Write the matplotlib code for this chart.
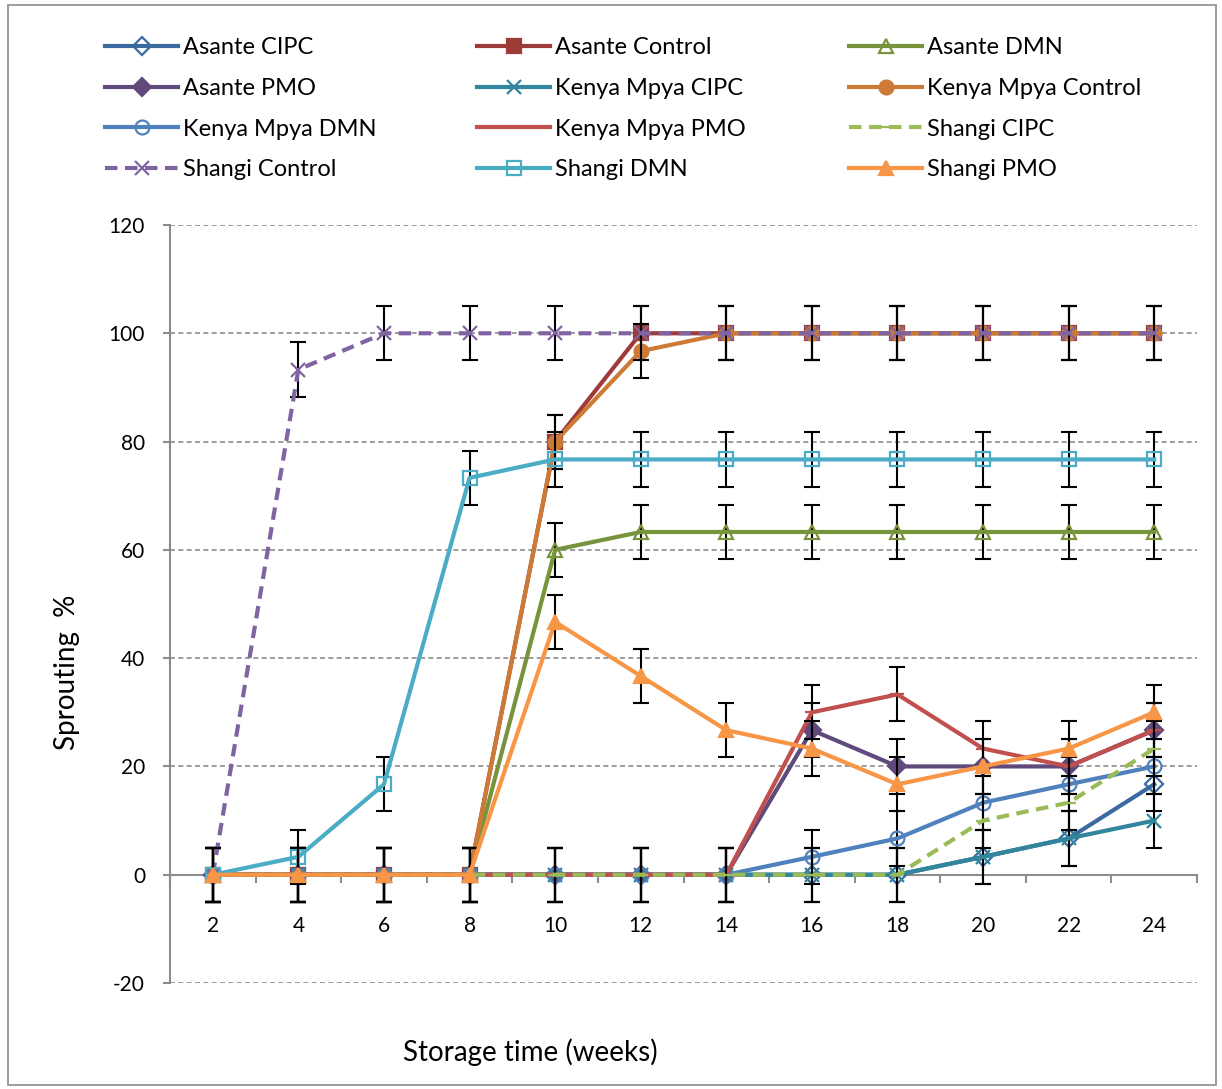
import matplotlib.pyplot as plt
from matplotlib.patches import Rectangle

plt.rcParams['font.family'] = ['Lato', 'DejaVu Sans']
plt.rcParams['axes.unicode_minus'] = False

weeks = [2, 4, 6, 8, 10, 12, 14, 16, 18, 20, 22, 24]

names = ["Asante CIPC", "Asante Control", "Asante DMN",
         "Asante PMO", "Kenya Mpya CIPC", "Kenya Mpya Control",
         "Kenya Mpya DMN", "Kenya Mpya PMO", "Shangi CIPC",
         "Shangi Control", "Shangi DMN", "Shangi PMO"]

asante_cipc = [0, 0, 0, 0, 0, 0, 0, 0, 0, 3.3, 6.7, 16.7]
asante_control = [0, 0, 0, 0, 80, 100, 100, 100, 100, 100, 100, 100]
asante_dmn = [0, 0, 0, 0, 60, 63.3, 63.3, 63.3, 63.3, 63.3, 63.3, 63.3]
asante_pmo = [0, 0, 0, 0, 0, 0, 0, 26.7, 20, 20, 20, 26.7]
kenya_cipc = [0, 0, 0, 0, 0, 0, 0, 0, 0, 3.3, 6.7, 10]
kenya_control = [0, 0, 0, 0, 80, 96.7, 100, 100, 100, 100, 100, 100]
kenya_dmn = [0, 0, 0, 0, 0, 0, 0, 3.3, 6.7, 13.3, 16.7, 20]
kenya_pmo = [0, 0, 0, 0, 0, 0, 0, 30, 33.3, 23.3, 20, 26.7]
shangi_cipc = [0, 0, 0, 0, 0, 0, 0, 0, 0, 10, 13.3, 23.3]
shangi_control = [0, 93.3, 100, 100, 100, 100, 100, 100, 100, 100, 100, 100]
shangi_dmn = [0, 3.3, 16.7, 73.3, 76.7, 76.7, 76.7, 76.7, 76.7, 76.7, 76.7, 76.7]
shangi_pmo = [0, 0, 0, 0, 46.7, 36.7, 26.7, 23.3, 16.7, 20, 23.3, 30]

err = 5

series = [asante_cipc, asante_control, asante_dmn, asante_pmo,
          kenya_cipc, kenya_control, kenya_dmn, kenya_pmo,
          shangi_cipc, shangi_control, shangi_dmn, shangi_pmo]

# color, marker, filled, linestyle
styles = [
    ("#3B6AA0", "D", False, "-"),
    ("#9E3A38", "s", True, "-"),
    ("#77933C", "^", False, "-"),
    ("#604A7B", "D", True, "-"),
    ("#31859C", "x", True, "-"),
    ("#CD7A36", "o", True, "-"),
    ("#4F81BD", "o", False, "-"),
    ("#C0504D", "_", True, "-"),
    ("#9BBB59", "_", True, (0, (3, 1.8))),
    ("#8064A2", "x", True, (0, (3, 1.8))),
    ("#4BACC6", "s", False, "-"),
    ("#F79646", "^", True, "-"),
]

fig = plt.figure(figsize=(12.22, 10.89), dpi=100)
ax = fig.add_axes([170/1222, 1-983/1089, 1027/1222, 758/1089])

handles = []
for i, (vals, (c, m, filled, ls)) in enumerate(zip(series, styles)):
    ms = 10
    if m == "D":
        ms = 9
    if m == "_":
        ms = 10
    fc = c if filled else "none"
    ax.errorbar(weeks, vals, yerr=err, fmt="none", ecolor="black",
                elinewidth=1.5, capsize=6, capthick=1.5, zorder=2+i*2)
    h, = ax.plot(weeks, vals, color=c, lw=3, ls=ls, marker=m, ms=ms,
                 mfc=fc, mec=c, mew=1.6, zorder=3+i*2)
    handles.append(h)

ax.set_xlim(1, 25)
ax.set_ylim(-20, 120)

ax.set_yticks(range(-20, 121, 20))
for v in range(20, 121, 20):
    ax.axhline(v, color="#8C8C8C", lw=1.2, ls=(0, (3, 2)), zorder=1)
ax.axhline(-20, color="#8C8C8C", lw=1.2, ls=(0, (3, 2)), zorder=1)

for s in ["top", "right"]:
    ax.spines[s].set_visible(False)
ax.spines["left"].set_color("#8C8C8C")
ax.spines["left"].set_linewidth(1.5)
ax.spines["bottom"].set_position(("data", 0))
ax.spines["bottom"].set_color("#8C8C8C")
ax.spines["bottom"].set_linewidth(1.5)

ax.set_xticks(range(1, 26, 2))
ax.set_xticklabels([])
ax.set_xticks(weeks, minor=True)
ax.set_xticklabels([str(w) for w in weeks], minor=True, fontsize=15)
ax.tick_params(axis="x", which="major", direction="out", length=6,
               width=1.5, color="#8C8C8C")
ax.tick_params(axis="x", which="minor", length=0, pad=30)
ax.tick_params(axis="y", direction="out", length=5, width=1.5,
               color="#8C8C8C", labelsize=15, pad=13)

fig.text(67/1222, 1-672/1089, "Sprouting  %", rotation=90, fontsize=20,
         ha="center", va="center")
fig.text(530/1222, 1-1052/1089, "Storage time (weeks)", fontsize=20,
         ha="center", va="center")

# legend, filled row by row like the original
col_x = [105, 477, 849]
for col in range(3):
    idx = [col, col+3, col+6, col+9]
    fig.legend([handles[k] for k in idx], [names[k] for k in idx],
               loc="upper left", bbox_to_anchor=(col_x[col]/1222, 1-37/1089),
               frameon=False, fontsize=17, handlelength=3.1,
               handletextpad=0.2, labelspacing=0.84, borderpad=0,
               borderaxespad=0)

fig.add_artist(Rectangle((8/1222, 4/1089), 1208/1222, 1080/1089,
                         transform=fig.transFigure, fill=False,
                         edgecolor="#8C8C8C", lw=1.2))

fig.savefig("out.png", dpi=100)
